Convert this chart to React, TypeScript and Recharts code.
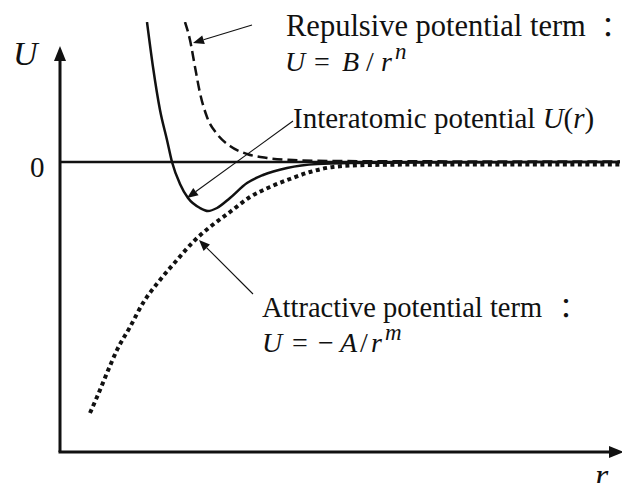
import React from 'react';
import { LineChart, Line, XAxis, YAxis, ReferenceLine, Customized } from 'recharts';

// interatomic potential U(r), arbitrary units
const netR = [8.7, 9.3, 10.0, 10.7, 11.2, 12.0, 12.8, 14.0, 14.8, 15.7, 17.0, 18.7, 20.3, 22.7, 25.7, 29.0, 36.0, 56.0];
const netU = [14.0, 9.5, 5.2, 2.2, 0, -2.2, -3.6, -4.6, -4.9, -4.6, -3.6, -2.1, -1.3, -0.6, -0.2, -0.1, -0.05, 0];

// repulsive term B / r^n
const repR = [12.5, 13.0, 13.5, 14.0, 14.7, 15.7, 17.0, 18.7, 20.7, 23.3, 27.0, 40.0, 56.0];
const repU = [14.0, 12.2, 9.5, 6.9, 4.5, 2.8, 1.6, 0.8, 0.4, 0.2, 0.1, 0.06, 0.05];

// attractive term -A / r^m
const attR = [3.0, 3.7, 4.7, 5.7, 7.0, 8.3, 10.0, 11.7, 13.3, 15.0, 17.0, 19.0, 21.0, 23.0, 25.0, 27.3, 30.7, 37.3, 56.0];
const attU = [-25.1, -23.5, -21.1, -18.8, -16.5, -14.1, -11.8, -9.8, -8.0, -6.5, -5.0, -3.5, -2.5, -1.7, -1.0, -0.5, -0.3, -0.25, -0.25];

const toRows = (rs: number[], us: number[]) => rs.map((r, i) => ({ r, u: us[i] }));
const netData = toRows(netR, netU);
const repData = toRows(repR, repU);
const attData = toRows(attR, attU);

const serif = "'Liberation Serif', 'DejaVu Serif', serif";
const cjk = "'Noto Sans CJK JP', sans-serif";
const ink = '#111';

// line with a filled triangular head at (x2, y2)
const arrow = (len: number, half: number, width: number) => (p: any) => {
  const { x1, y1, x2, y2 } = p;
  const a = Math.atan2(y2 - y1, x2 - x1);
  const bx = x2 - len * Math.cos(a);
  const by = y2 - len * Math.sin(a);
  const nx = -Math.sin(a) * half;
  const ny = Math.cos(a) * half;
  return (
    <g>
      <line x1={x1} y1={y1} x2={bx} y2={by} stroke={ink} strokeWidth={width} />
      <polygon points={`${x2},${y2} ${bx + nx},${by + ny} ${bx - nx},${by - ny}`} fill={ink} />
    </g>
  );
};

const axisArrow = arrow(15, 6, 3);
const noteArrow = arrow(11, 4.5, 1.1);

const T = (props: any) => <text {...props} style={{ fontFamily: serif, ...props.style }} />;
const it = { fontStyle: 'italic' };

function Notes() {
  return (
    <g fill={ink}>
      <T x={13} y={65} fontSize={34} style={it}>U</T>
      <T x={30} y={177} fontSize={29}>0</T>
      <T x={595} y={487} fontSize={34} style={it}>r</T>

      <T x={286} y={36} fontSize={30.5}>Repulsive potential term</T>
      <text x={594} y={38} fontSize={28} style={{ fontFamily: cjk }}>：</text>
      <T y={71} fontSize={28} style={it}>
        <tspan x={285}>U</tspan>
        <tspan x={314} fontStyle="normal">=</tspan>
        <tspan x={342}>B</tspan>
        <tspan x={366} fontStyle="normal">/</tspan>
        <tspan x={381}>r</tspan>
        <tspan x={395} dy={-12} fontSize={23}>n</tspan>
      </T>

      <T x={293} y={128} fontSize={29}>
        Interatomic potential <tspan fontStyle="italic">U</tspan>(<tspan fontStyle="italic">r</tspan>)
      </T>

      <T x={262} y={317} fontSize={28.5}>Attractive potential term</T>
      <text x={552} y={319} fontSize={28} style={{ fontFamily: cjk }}>：</text>
      <T y={352} fontSize={28} style={it}>
        <tspan x={262}>U</tspan>
        <tspan x={292} fontStyle="normal">=</tspan>
        <tspan x={318} fontStyle="normal">−</tspan>
        <tspan x={340}>A</tspan>
        <tspan x={360} fontStyle="normal">/</tspan>
        <tspan x={371}>r</tspan>
        <tspan x={385} dy={-12} fontSize={23}>m</tspan>
      </T>
    </g>
  );
}

export default function App() {
  return (
    <div style={{ position: 'absolute', left: 0, top: 0, background: '#fff' }}>
      <LineChart width={622} height={483} margin={{ top: 22, right: 2, bottom: 31, left: 60 }}>
        <XAxis type="number" dataKey="r" domain={[0, 56]} allowDataOverflow hide />
        <YAxis type="number" domain={[-29, 14]} allowDataOverflow hide />

        <ReferenceLine y={0} stroke={ink} strokeWidth={2.7} />
        <ReferenceLine segment={[{ x: 0, y: -29 }, { x: 0, y: 11.6 }]} ifOverflow="visible" shape={axisArrow} />
        <ReferenceLine segment={[{ x: -0.15, y: -29 }, { x: 56.4, y: -29 }]} ifOverflow="visible" shape={axisArrow} />

        <Line data={repData} dataKey="u" type="monotone" stroke={ink} strokeWidth={2.5} strokeDasharray="10 5" dot={false} isAnimationActive={false} />
        <Line data={attData} dataKey="u" type="monotone" stroke={ink} strokeWidth={4} strokeDasharray="4 3.5" dot={false} isAnimationActive={false} />
        <Line data={netData} dataKey="u" type="monotone" stroke={ink} strokeWidth={2.5} dot={false} isAnimationActive={false} />

        <ReferenceLine segment={[{ x: 19.2, y: 13.7 }, { x: 13.3, y: 11.9 }]} ifOverflow="visible" shape={noteArrow} />
        <ReferenceLine segment={[{ x: 23.3, y: 4.1 }, { x: 12.7, y: -3.6 }]} ifOverflow="visible" shape={noteArrow} />
        <ReferenceLine segment={[{ x: 19.3, y: -13.2 }, { x: 13.9, y: -7.8 }]} ifOverflow="visible" shape={noteArrow} />

        <Customized component={Notes} />
      </LineChart>
    </div>
  );
}
